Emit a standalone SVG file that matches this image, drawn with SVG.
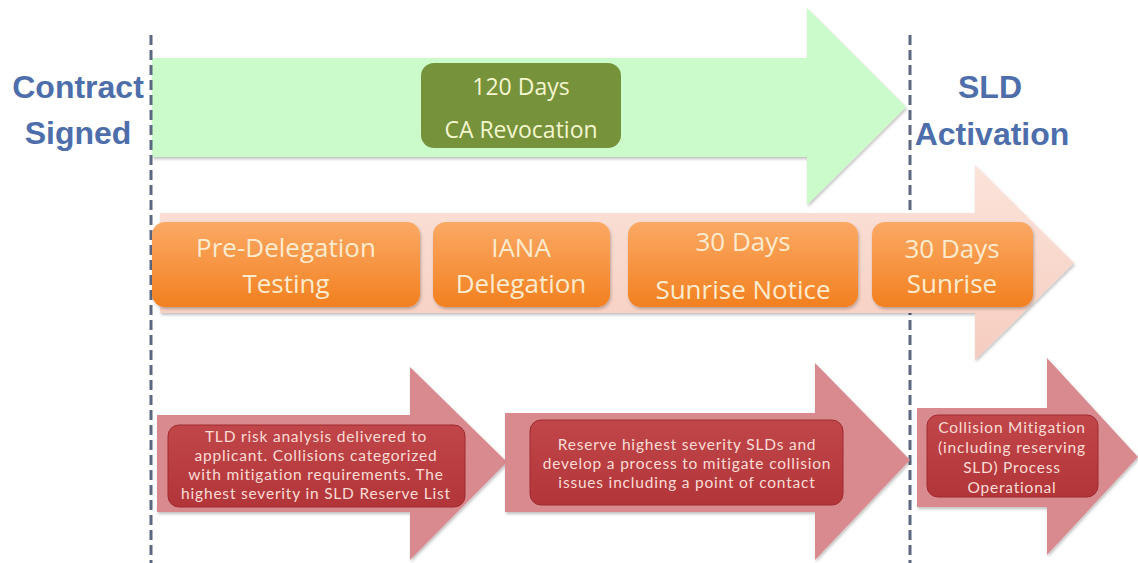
<svg xmlns="http://www.w3.org/2000/svg" width="1138" height="563" viewBox="0 0 1138 563">
<style>
.lbl{font-family:"Liberation Sans",Arial,sans-serif;font-weight:bold;font-size:32px;fill:#4d6eaa;text-anchor:middle}
.big{font-family:"Open Sans",Lato,sans-serif;font-size:26px;fill:#fdebcf;text-anchor:middle}
.grn{font-family:"Open Sans",Lato,sans-serif;font-size:23px;fill:#f4f6cf;text-anchor:middle}
.sm{font-family:Lato,"Open Sans",sans-serif;font-size:15.5px;letter-spacing:0.8px;fill:#fbdcd6;text-anchor:middle}
.dash{stroke:#5b6880;stroke-width:3;stroke-dasharray:10 5;fill:none}
.redarrow{fill:#d98a8e}
.redbox{fill:url(#rg);stroke:#9e2a2e;stroke-width:1}
.orbox{fill:url(#og)}
</style>
<defs>
<linearGradient id="og" x1="0" y1="0" x2="0" y2="1">
<stop offset="0" stop-color="#fba965"/>
<stop offset="1" stop-color="#f2801f"/>
</linearGradient>
<linearGradient id="rg" x1="0" y1="0" x2="0" y2="1">
<stop offset="0" stop-color="#c14649"/>
<stop offset="1" stop-color="#b23639"/>
</linearGradient>
<linearGradient id="pg" x1="0" y1="0" x2="0" y2="1">
<stop offset="0" stop-color="#fbe3da"/>
<stop offset="1" stop-color="#f6cdbf"/>
</linearGradient>
<filter id="sh" x="-5%" y="-5%" width="110%" height="115%">
<feDropShadow dx="1" dy="2" stdDeviation="1.5" flood-color="#000" flood-opacity="0.25"/>
</filter>
</defs>

<g id="green-arrow">
<path d="M152 58 H807 V8 L906 107 L807 205 V157 H152 Z" fill="#cbfbcb" filter="url(#sh)"/>
</g>
<g id="ca-revocation">
<rect x="421" y="63" width="200" height="85" rx="13" fill="#76923b"/>
<text class="grn" x="521" y="95">120 Days</text>
<text class="grn" x="521" y="138">CA Revocation</text>
</g>

<g id="connectors">
<line class="dash" x1="151" y1="35" x2="151" y2="563"/>
<line class="dash" x1="910" y1="35" x2="910" y2="563"/>
</g>

<g id="pink-arrow">
<path d="M160 213 H975 V165 L1074 263 L975 360 V313 H160 Z" fill="url(#pg)" filter="url(#sh)"/>
</g>
<g id="pre-delegation">
<rect x="152" y="222" width="268" height="85" rx="13" class="orbox" filter="url(#sh)"/>
<text class="big" x="286" y="257">Pre-Delegation</text>
<text class="big" x="286" y="293">Testing</text>
</g>
<g id="iana-delegation">
<rect x="433" y="222" width="177" height="85" rx="13" class="orbox" filter="url(#sh)"/>
<text class="big" x="521" y="257">IANA</text>
<text class="big" x="521" y="293">Delegation</text>
</g>
<g id="sunrise-notice">
<rect x="628" y="222" width="230" height="85" rx="13" class="orbox" filter="url(#sh)"/>
<text class="big" x="743" y="251">30 Days</text>
<text class="big" x="743" y="299">Sunrise Notice</text>
</g>
<g id="sunrise">
<rect x="872" y="222" width="161" height="85" rx="13" class="orbox" filter="url(#sh)"/>
<text class="big" x="952" y="258">30 Days</text>
<text class="big" x="952" y="293">Sunrise</text>
</g>

<g id="red-arrow-1">
<path class="redarrow" d="M157 415 H410 V367 L507 462 L410 560 V512 H157 Z" filter="url(#sh)"/>
<rect class="redbox" x="168" y="425" width="297" height="82" rx="11"/>
<text class="sm" x="316" y="442">TLD risk analysis delivered to</text>
<text class="sm" x="316" y="461">applicant. Collisions categorized</text>
<text class="sm" x="316" y="480">with mitigation requirements. The</text>
<text class="sm" x="316" y="499">highest severity in SLD Reserve List</text>
</g>
<g id="red-arrow-2">
<path class="redarrow" d="M505 413 H815 V363 L910 460 L815 560 V512 H505 Z" filter="url(#sh)"/>
<rect class="redbox" x="530" y="420" width="313" height="85" rx="11"/>
<text class="sm" x="687" y="450">Reserve highest severity SLDs and</text>
<text class="sm" x="687" y="469">develop a process to mitigate collision</text>
<text class="sm" x="687" y="488">issues including a point of contact</text>
</g>
<g id="red-arrow-3">
<path class="redarrow" d="M917 408 H1047 V358 L1138 457 L1047 555 V507 H917 Z" filter="url(#sh)"/>
<rect class="redbox" x="927" y="415" width="171" height="82" rx="11"/>
<text class="sm" x="1012" y="433">Collision Mitigation</text>
<text class="sm" x="1012" y="453">(including reserving</text>
<text class="sm" x="1012" y="473">SLD) Process</text>
<text class="sm" x="1012" y="493">Operational</text>
</g>

<g id="contract-signed">
<text class="lbl" x="78" y="98">Contract</text>
<text class="lbl" x="78" y="144">Signed</text>
</g>
<g id="sld-activation">
<text class="lbl" x="990" y="98">SLD</text>
<text class="lbl" x="992" y="145">Activation</text>
</g>
</svg>
